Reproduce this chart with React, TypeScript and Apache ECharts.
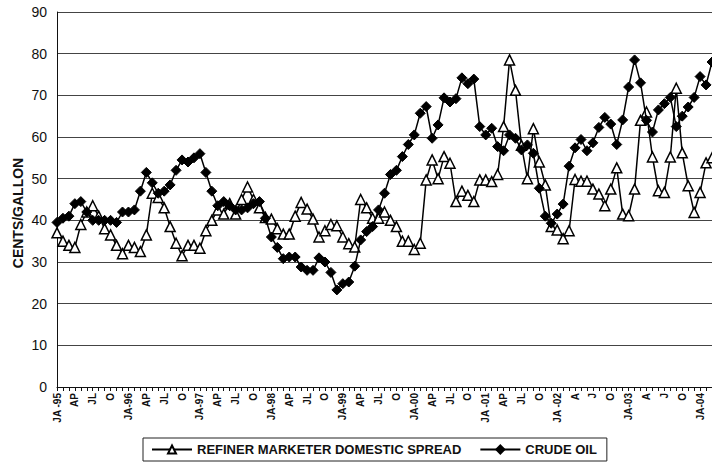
import React, { useEffect, useRef } from "react";
import * as echarts from "echarts";

// Monthly, Jan 1995 .. Mar 2004
const years = ["95", "96", "97", "98", "99", "00", "01", "02", "03", "04"];
const quarterLabelsEarly = ["JA", "AP", "JL", "O"];
const quarterLabelsLate = ["JA", "A", "J", "O"];

const spread: number[] = [
  // 1995
  37, 35, 34, 33.5, 39, 42, 43.5, 41, 38, 36.5, 34, 32,
  // 1996
  34, 33.5, 32.5, 36.5, 46.5, 45.5, 43, 38.5, 34.5, 31.5, 34, 34,
  // 1997
  33.3, 37.5, 40, 42.5, 41.5, 44, 41.5, 45, 48, 45, 43, 40.7,
  // 1998
  40.3, 38, 36.7, 36.7, 41, 44.3, 42.7, 40.3, 36, 37.5, 39, 38.7,
  // 1999
  36, 34.4, 33.6, 45, 43, 40.5, 40.5, 42, 40, 38.5, 35, 35,
  // 2000
  33, 34.5, 49.7, 54.5, 50, 55.3, 53.7, 44.5, 47, 46, 44.5, 49.7,
  // 2001
  49.7, 49.3, 51, 62.5, 78.5, 71.2, 58, 50, 62, 54, 48.5, 38.5,
  // 2002
  37.7, 35.6, 37.5, 49.8, 49.4, 49.4, 47.5, 46.3, 43.5, 47.5, 52.6, 41.5,
  // 2003
  41.1, 47.5, 64, 66, 55.2, 47.1, 46.7, 55.2, 71.7, 56.2, 48.3, 41.9,
  // 2004
  46.7, 53.8, 55,
];

const crude: number[] = [
  // 1995
  39.5, 40.5, 41, 44, 44.5, 42, 40, 40, 40, 40, 39.5, 42,
  // 1996
  42, 42.5, 47, 51.5, 49, 46.5, 47, 48.5, 52, 54.5, 54, 55,
  // 1997
  56, 51.5, 47, 43.5, 44.5, 43.5, 42.5, 42.5, 43, 44, 44.5, 40.5,
  // 1998
  36, 33.5, 30.8, 31.2, 31.2, 28.8, 28, 28, 31, 30, 27.5, 23.3,
  // 1999
  24.8, 25.2, 29, 35.3, 37.3, 38.5, 42.5, 46.5, 51, 52, 55.3, 58.2,
  // 2000
  60.5, 65.7, 67.3, 59.7, 62.9, 69.4, 68.4, 69.2, 74.2, 72.8, 73.9, 62.5,
  // 2001
  60.5, 62.1, 57.7, 56.7, 60.5, 59.7, 56.9, 58.1, 56.1, 47.7, 41, 39.3,
  // 2002
  41.5, 43.9, 53, 57.4, 59.4, 56.7, 58.6, 62.3, 64.7, 63.1, 58.2, 64.1,
  // 2003
  72, 78.5, 73, 64, 61.2, 66.5, 68, 69.5, 62.5, 65, 67.2, 69.5,
  // 2004
  74.5, 72.5, 78,
];

const yTicks = { min: 0, max: 90, interval: 10 };
const yTitle = "CENTS/GALLON";

// Build monthly category labels (shown every 3rd month)
const categories: string[] = [];
const tickLabels: string[] = [];
years.forEach((y, yi) => {
  for (let m = 0; m < 12; m++) {
    if (categories.length >= spread.length) return;
    categories.push(`${y}-${m + 1}`);
    if (m % 3 === 0) {
      const q = m / 3;
      const set = yi >= 7 ? quarterLabelsLate : quarterLabelsEarly;
      const jaSpace = y === "95" || y === "01" || y === "02" ? "JA -" : "JA-";
      tickLabels.push(q === 0 ? `${jaSpace}${y}` : set[q]);
    } else {
      tickLabels.push("");
    }
  }
});

export default function App() {
  const ref = useRef<HTMLDivElement>(null);
  useEffect(() => {
    if (!ref.current) return;
    const chart = echarts.init(ref.current, undefined, { renderer: "svg" });
    const font = "'Liberation Sans', Arial, Helvetica, sans-serif";
    chart.setOption({
      animation: false,
      backgroundColor: "#fff",
      textStyle: { fontFamily: font, color: "#111" },
      grid: { left: 57, right: 0, top: 12, bottom: 81, containLabel: false },
      graphic: [
        {
          type: "text",
          x: 18,
          y: 213,
          rotation: Math.PI / 2,
          style: {
            text: yTitle,
            fontFamily: font,
            fontWeight: "bold",
            fontSize: 14,
            fill: "#111",
            textAlign: "center",
            textVerticalAlign: "middle",
          },
        },
      ],
      legend: {
        left: 143,
        top: 438,
        width: 470,
        data: ["REFINER MARKETER DOMESTIC SPREAD", "CRUDE OIL"],
        borderColor: "#222",
        borderWidth: 1,
        padding: [5, 10, 5, 8],
        itemGap: 18,
        itemWidth: 40,
        itemHeight: 10,
        textStyle: { fontFamily: font, fontWeight: "bold", fontSize: 13, color: "#111" },
      },
      xAxis: {
        type: "category",
        data: categories,
        boundaryGap: false,
        axisLine: { lineStyle: { color: "#111", width: 1 } },
        axisTick: { show: true, interval: 0, length: 4, lineStyle: { color: "#111" } },
        axisLabel: {
          interval: 0,
          rotate: 90,
          fontSize: 10,
          fontWeight: "bold",
          color: "#111",
          margin: 6,
          formatter: (_v: string, idx: number) => tickLabels[idx],
        },
        splitLine: { show: false },
      },
      yAxis: {
        type: "value",
        min: yTicks.min,
        max: yTicks.max,
        interval: yTicks.interval,
        axisLine: { show: true, lineStyle: { color: "#111", width: 1 } },
        axisTick: { show: false },
        axisLabel: { fontSize: 14, color: "#111", margin: 10 },
        splitLine: { show: true, lineStyle: { color: "#444", width: 1 } },
      },
      series: [
        {
          name: "REFINER MARKETER DOMESTIC SPREAD",
          type: "line",
          data: spread,
          symbol: "triangle",
          symbolSize: 10,
          showAllSymbol: true,
          lineStyle: { color: "#000", width: 1.5 },
          itemStyle: { color: "#fff", borderColor: "#000", borderWidth: 1.5 },
          z: 2,
        },
        {
          name: "CRUDE OIL",
          type: "line",
          data: crude,
          symbol: "diamond",
          symbolSize: 10,
          showAllSymbol: true,
          lineStyle: { color: "#000", width: 1.5 },
          itemStyle: { color: "#000", borderColor: "#000", borderWidth: 1 },
          z: 3,
        },
      ],
    });
    return () => chart.dispose();
  }, []);
  return (
    <div
      ref={ref}
      style={{ position: "fixed", left: 0, top: 0, width: 712, height: 468, background: "#fff" }}
    />
  );
}
